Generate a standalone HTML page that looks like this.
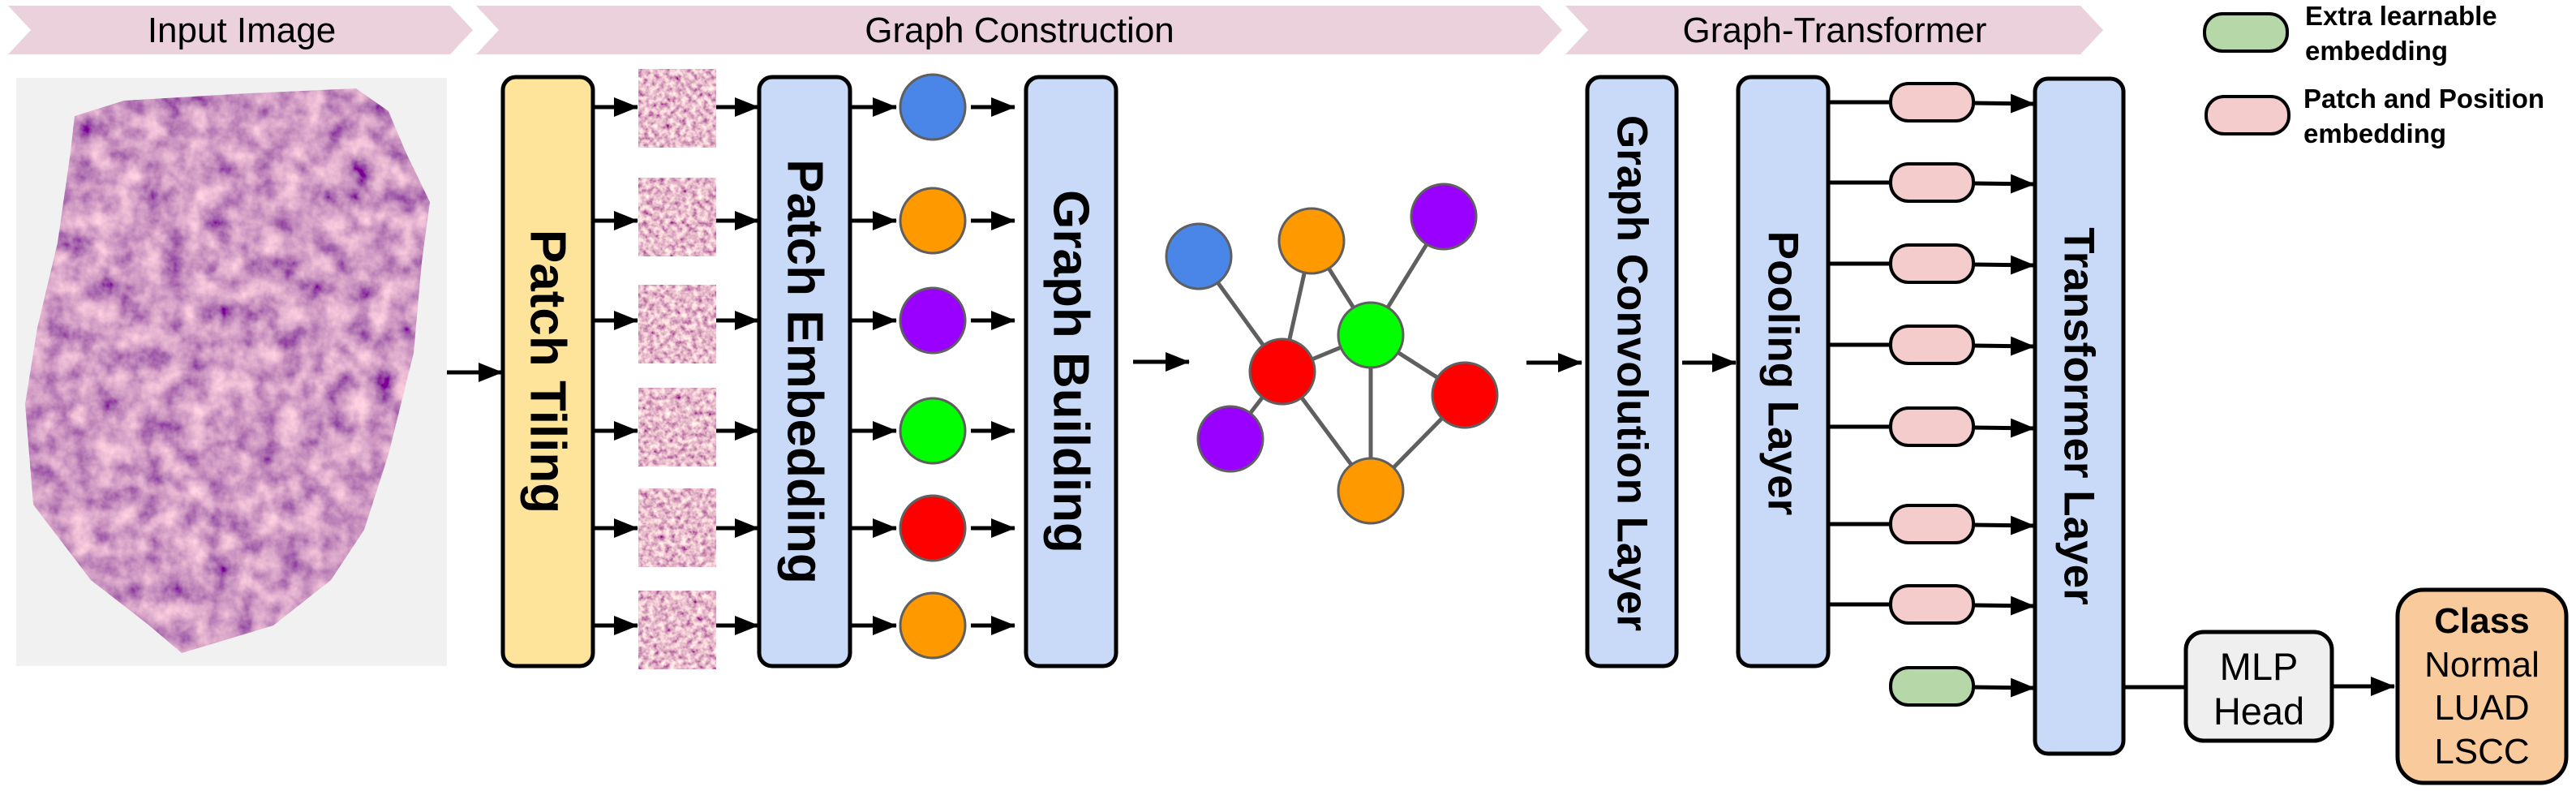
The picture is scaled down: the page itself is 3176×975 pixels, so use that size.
<!DOCTYPE html>
<html><head><meta charset="utf-8"><style>html,body{margin:0;padding:0;background:#fff}svg{display:block}</style></head>
<body>
<svg width="3176" height="975" viewBox="0 0 3176 975" xmlns="http://www.w3.org/2000/svg" font-family="Liberation Sans, Arial, sans-serif">
<defs>
<filter id="tis" x="0" y="0" width="100%" height="100%">
<feTurbulence type="fractalNoise" baseFrequency="0.035" numOctaves="4" seed="3"/>
<feColorMatrix type="matrix" values="1.1 0 0 0 0.08  0.9 0 0 0 -0.12  0.6 0 0 0 0.25  0 0 0 0 1"/>
</filter>
<filter id="pat" x="0" y="0" width="100%" height="100%">
<feTurbulence type="fractalNoise" baseFrequency="0.15" numOctaves="3" seed="7"/>
<feColorMatrix type="matrix" values="1.2 0 0 0 0.2  1.4 0 0 0 -0.2  0.9 0 0 0 0.15  0 0 0 0 1"/>
</filter>
<clipPath id="blob"><path d="M92,143 L153,124 L306,115 L439,109 L479,137 L500,187 L530,249 L520,323 L510,435 L479,560 L449,653 L408,715 L337,771 L224,805 L184,771 L112,715 L41,622 L31,498 L46,404 L71,299 L87,187 Z"/></clipPath>
<marker id="ah" markerWidth="30" markerHeight="24" refX="29" refY="12" orient="auto" markerUnits="userSpaceOnUse" viewBox="0 0 30 24"><path d="M0,0 L30,12 L0,24 Z" fill="#000"/></marker>
</defs>

<g fill="#ead1dc">
<polygon points="10,7 555,7 583,37 555,67 10,67 38,37"/>
<polygon points="587,7 1898,7 1926,37 1898,67 587,67 615,37"/>
<polygon points="1930,7 2565,7 2593,37 2565,67 1930,67 1958,37"/>
</g>
<g font-size="44" text-anchor="middle" fill="#000">
<text x="298" y="52">Input Image</text>
<text x="1257" y="52">Graph Construction</text>
<text x="2262" y="52">Graph-Transformer</text>
</g>

<rect x="20" y="96" width="531" height="725" fill="#f1f1f1"/>
<g clip-path="url(#blob)"><rect x="20" y="96" width="531" height="725" filter="url(#tis)"/></g>

<g stroke="#000" stroke-width="5" fill="none">
<line x1="551" y1="459" x2="619" y2="459" marker-end="url(#ah)"/>
</g>

<g stroke="#000" stroke-width="5">
<rect x="620" y="95" width="111" height="726" rx="16" fill="#fee49b"/>
<rect x="936" y="95" width="112" height="726" rx="16" fill="#c9daf8"/>
<rect x="1265" y="95" width="111" height="726" rx="16" fill="#c9daf8"/>
<rect x="1957" y="95" width="110" height="726" rx="16" fill="#c9daf8"/>
<rect x="2143" y="95" width="111" height="726" rx="16" fill="#c9daf8"/>
<rect x="2509" y="97" width="109" height="832" rx="16" fill="#c9daf8"/>
<rect x="2695" y="779" width="180" height="134" rx="22" fill="#efefef"/>
<rect x="2956" y="727" width="208" height="238" rx="32" fill="#f9cb9c"/>
</g>
<g font-weight="bold" text-anchor="middle" dominant-baseline="central" fill="#000">
<text font-size="62" transform="translate(675,458) rotate(90)">Patch Tiling</text>
<text font-size="62" transform="translate(992,458) rotate(90)">Patch Embedding</text>
<text font-size="62" transform="translate(1320,458) rotate(90)">Graph Building</text>
<text font-size="53" transform="translate(2012,460) rotate(90)">Graph Convolution Layer</text>
<text font-size="53" transform="translate(2198,460) rotate(90)">Pooling Layer</text>
<text font-size="53" transform="translate(2563,513) rotate(90)">Transformer Layer</text>
</g>

<g>
<rect x="787" y="85" width="96" height="97" filter="url(#pat)"/>
<rect x="787" y="219" width="96" height="97" filter="url(#pat)"/>
<rect x="787" y="351" width="96" height="97" filter="url(#pat)"/>
<rect x="787" y="478" width="96" height="97" filter="url(#pat)"/>
<rect x="787" y="602" width="96" height="97" filter="url(#pat)"/>
<rect x="787" y="728" width="96" height="97" filter="url(#pat)"/>
</g>

<g stroke="#000" stroke-width="5">
<line x1="732" y1="132" x2="786" y2="132" marker-end="url(#ah)"/>
<line x1="732" y1="272" x2="786" y2="272" marker-end="url(#ah)"/>
<line x1="732" y1="395" x2="786" y2="395" marker-end="url(#ah)"/>
<line x1="732" y1="531" x2="786" y2="531" marker-end="url(#ah)"/>
<line x1="732" y1="651" x2="786" y2="651" marker-end="url(#ah)"/>
<line x1="732" y1="771" x2="786" y2="771" marker-end="url(#ah)"/>
<line x1="883" y1="132" x2="935" y2="132" marker-end="url(#ah)"/>
<line x1="883" y1="272" x2="935" y2="272" marker-end="url(#ah)"/>
<line x1="883" y1="395" x2="935" y2="395" marker-end="url(#ah)"/>
<line x1="883" y1="531" x2="935" y2="531" marker-end="url(#ah)"/>
<line x1="883" y1="651" x2="935" y2="651" marker-end="url(#ah)"/>
<line x1="883" y1="771" x2="935" y2="771" marker-end="url(#ah)"/>
<line x1="1050" y1="132" x2="1105" y2="132" marker-end="url(#ah)"/>
<line x1="1050" y1="272" x2="1105" y2="272" marker-end="url(#ah)"/>
<line x1="1050" y1="395" x2="1105" y2="395" marker-end="url(#ah)"/>
<line x1="1050" y1="531" x2="1105" y2="531" marker-end="url(#ah)"/>
<line x1="1050" y1="651" x2="1105" y2="651" marker-end="url(#ah)"/>
<line x1="1050" y1="771" x2="1105" y2="771" marker-end="url(#ah)"/>
<line x1="1197" y1="132" x2="1251" y2="132" marker-end="url(#ah)"/>
<line x1="1197" y1="272" x2="1251" y2="272" marker-end="url(#ah)"/>
<line x1="1197" y1="395" x2="1251" y2="395" marker-end="url(#ah)"/>
<line x1="1197" y1="531" x2="1251" y2="531" marker-end="url(#ah)"/>
<line x1="1197" y1="651" x2="1251" y2="651" marker-end="url(#ah)"/>
<line x1="1197" y1="771" x2="1251" y2="771" marker-end="url(#ah)"/>
<line x1="1397" y1="446" x2="1466" y2="446" marker-end="url(#ah)"/>
<line x1="1882" y1="447" x2="1950" y2="447" marker-end="url(#ah)"/>
<line x1="2074" y1="447" x2="2140" y2="447" marker-end="url(#ah)"/>
<line x1="2875" y1="846" x2="2952" y2="846" marker-end="url(#ah)"/>
<line x1="2618" y1="847" x2="2695" y2="847"/>
</g>

<g stroke="#5f5f5f" stroke-width="3">
<circle cx="1150" cy="132" r="40" fill="#4a86e8"/>
<circle cx="1150" cy="272" r="40" fill="#ff9900"/>
<circle cx="1150" cy="395" r="40" fill="#9900ff"/>
<circle cx="1150" cy="531" r="40" fill="#00ff00"/>
<circle cx="1150" cy="651" r="40" fill="#ff0000"/>
<circle cx="1150" cy="771" r="40" fill="#ff9900"/>
</g>

<g stroke="#5f5f5f" stroke-width="5">
<line x1="1478" y1="316" x2="1581" y2="458"/>
<line x1="1617" y1="297" x2="1581" y2="458"/>
<line x1="1617" y1="297" x2="1690" y2="413"/>
<line x1="1780" y1="267" x2="1690" y2="413"/>
<line x1="1581" y1="458" x2="1690" y2="413"/>
<line x1="1581" y1="458" x2="1517" y2="541"/>
<line x1="1581" y1="458" x2="1690" y2="605"/>
<line x1="1690" y1="413" x2="1690" y2="605"/>
<line x1="1690" y1="413" x2="1806" y2="487"/>
<line x1="1806" y1="487" x2="1690" y2="605"/>
</g>
<g stroke="#5f5f5f" stroke-width="3">
<circle cx="1478" cy="316" r="40" fill="#4a86e8"/>
<circle cx="1617" cy="297" r="40" fill="#ff9900"/>
<circle cx="1780" cy="267" r="40" fill="#9900ff"/>
<circle cx="1690" cy="413" r="40" fill="#00ff00"/>
<circle cx="1581" cy="458" r="40" fill="#ff0000"/>
<circle cx="1517" cy="541" r="40" fill="#9900ff"/>
<circle cx="1806" cy="487" r="40" fill="#ff0000"/>
<circle cx="1690" cy="605" r="40" fill="#ff9900"/>
</g>

<g stroke="#000" stroke-width="5">
<line x1="2254" y1="126" x2="2331" y2="126"/>
<line x1="2254" y1="225" x2="2331" y2="225"/>
<line x1="2254" y1="325" x2="2331" y2="325"/>
<line x1="2254" y1="425" x2="2331" y2="425"/>
<line x1="2254" y1="526" x2="2331" y2="526"/>
<line x1="2254" y1="646" x2="2331" y2="646"/>
<line x1="2254" y1="745" x2="2331" y2="745"/>
<line x1="2433" y1="127" x2="2508" y2="128" marker-end="url(#ah)"/>
<line x1="2433" y1="226" x2="2508" y2="227" marker-end="url(#ah)"/>
<line x1="2433" y1="326" x2="2508" y2="327" marker-end="url(#ah)"/>
<line x1="2433" y1="426" x2="2508" y2="427" marker-end="url(#ah)"/>
<line x1="2433" y1="527" x2="2508" y2="528" marker-end="url(#ah)"/>
<line x1="2433" y1="647" x2="2508" y2="648" marker-end="url(#ah)"/>
<line x1="2433" y1="746" x2="2508" y2="747" marker-end="url(#ah)"/>
<line x1="2433" y1="847" x2="2508" y2="848" marker-end="url(#ah)"/>
</g>
<g stroke="#000" stroke-width="4" fill="#f4cccc">
<rect x="2331" y="103" width="102" height="46" rx="22"/>
<rect x="2331" y="202" width="102" height="46" rx="22"/>
<rect x="2331" y="302" width="102" height="46" rx="22"/>
<rect x="2331" y="402" width="102" height="46" rx="22"/>
<rect x="2331" y="503" width="102" height="46" rx="22"/>
<rect x="2331" y="623" width="102" height="46" rx="22"/>
<rect x="2331" y="722" width="102" height="46" rx="22"/>
<rect x="2331" y="823" width="102" height="46" rx="22" fill="#b6d7a8"/>
<rect x="2718" y="17" width="102" height="46" rx="22" fill="#b6d7a8"/>
<rect x="2720" y="119" width="102" height="46" rx="22"/>
</g>
<g font-size="33" font-weight="bold" fill="#000">
<text x="2842" y="31">Extra learnable</text>
<text x="2842" y="74">embedding</text>
<text x="2840" y="133">Patch and Position</text>
<text x="2840" y="176">embedding</text>
</g>

<g font-size="44" text-anchor="middle" fill="#000">
<text x="2785" y="838" font-size="47">MLP</text>
<text x="2785" y="893" font-size="47">Head</text>
<text x="3060" y="780" font-weight="bold">Class</text>
<text x="3060" y="834">Normal</text>
<text x="3060" y="887">LUAD</text>
<text x="3060" y="941">LSCC</text>
</g>
</svg>
</body></html>
